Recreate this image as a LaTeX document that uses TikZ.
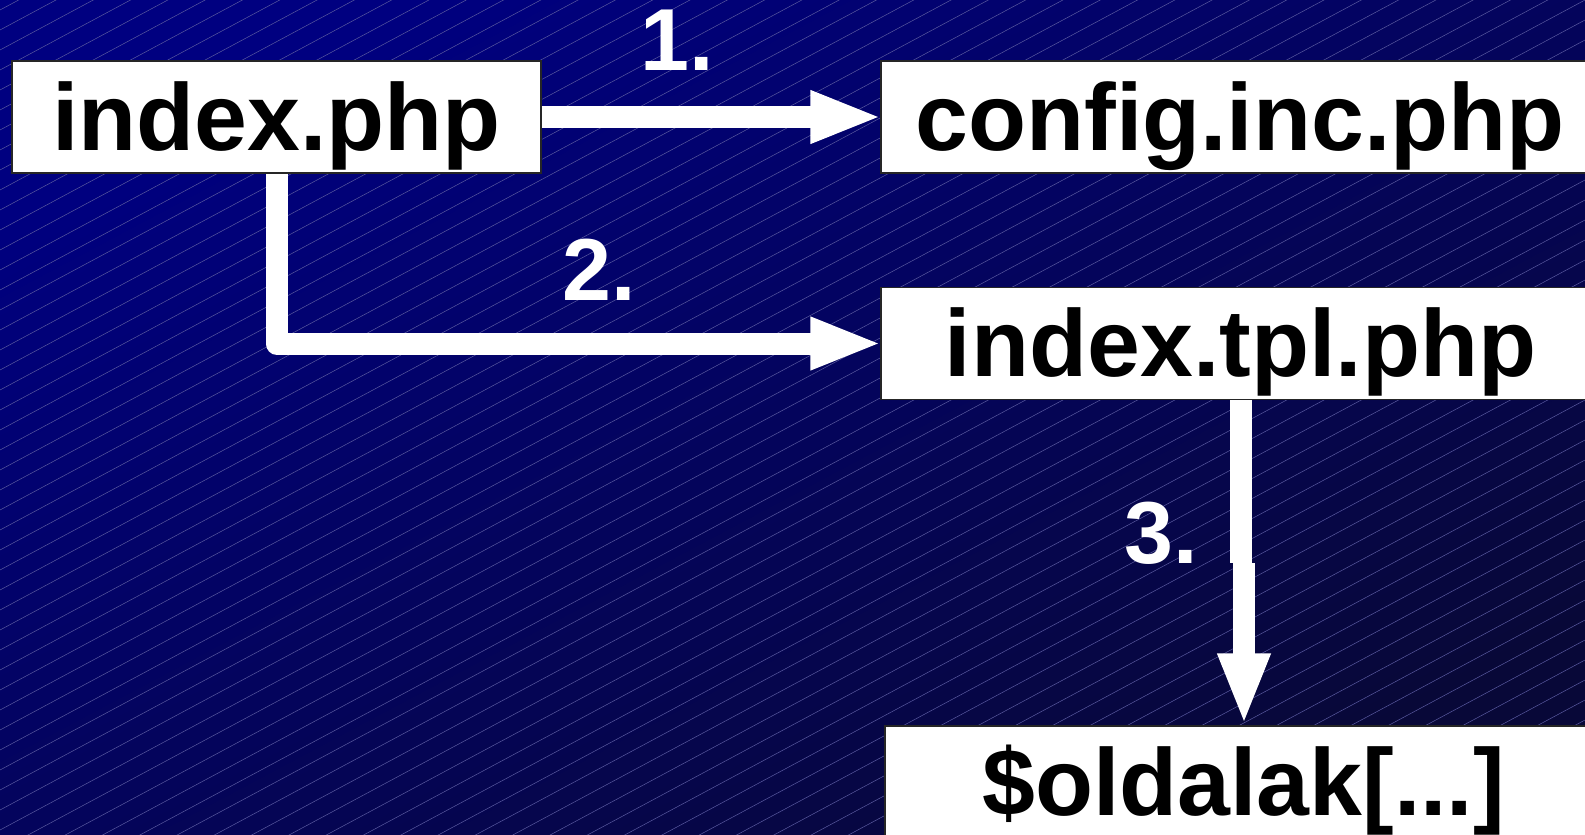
\documentclass[tikz,border=0pt]{standalone}
\usepackage{fontspec}
\setmainfont{Liberation Sans}
\usetikzlibrary{arrows.meta}
\definecolor{bgA}{RGB}{0,0,128}
\definecolor{bgB}{RGB}{8,8,56}
\definecolor{hatchc}{RGB}{90,90,160}
\begin{document}
\begin{tikzpicture}[x=1pt,y=-1pt,
  box/.style={draw=black!85, line width=1.5pt, fill=white, inner sep=0pt,
    minimum width=#1, minimum height=112pt, text height=86pt, text depth=20pt,
    font=\fontsize{95}{100}\selectfont\bfseries},
  lbl/.style={text=white, inner sep=0pt, anchor=base,
    font=\fontsize{88}{90}\selectfont\bfseries},
  arr/.style={draw=white, line width=22pt, -{Triangle[length=72pt,width=48pt]}},
  link/.style={draw=white, line width=22pt},
  hatchline/.style={draw=hatchc, line width=0.5pt},
]
\useasboundingbox (0,0) rectangle (1585,835);
\shade[top color=bgA, bottom color=bgB, shading angle=28] (0,0) rectangle (1585,835);
\begin{scope}
  \clip (0,0) rectangle (1585,835);
  \foreach \b in {10,30,...,1710} \draw[hatchline] (0,\b) -- (1585,\b-850);
\end{scope}

\node[box=529pt] (index) at (276.5,117) {index.php};
\node[box=718pt] (config) at (1240,117) {config.inc.php};
\node[box=719pt] (tpl) at (1240.5,343.5) {index.tpl.php};
\node[box=717pt] (old) at (1243.5,782) {\$oldalak[...]};

\draw[arr, shorten >=-2pt] (index.east) -- (config.west);
\draw[arr, shorten >=-2pt, line join=round] (index.south) |- (tpl.west);
\coordinate (j1) at (1240.5,563);
\coordinate (j2) at (1244,563);
\draw[link] (tpl.south -| j1) -- (j1);
\draw[arr] (j2) -- (j2 |- old.north);

\node[lbl] (n1) at (677,70) {1.};
\node[lbl] (n2) at (599,300) {2.};
\node[lbl] (n3) at (1161.5,563) {3.};
\end{tikzpicture}
\end{document}
